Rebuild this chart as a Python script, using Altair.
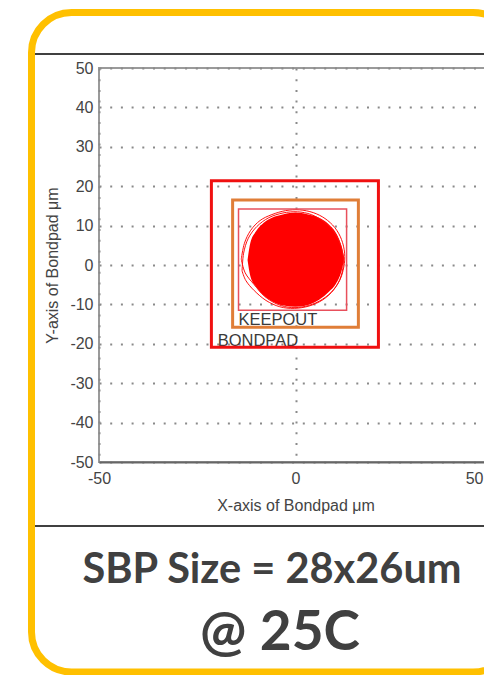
import altair as alt
import pandas as pd

# ---- data ----
box_names = ["BONDPAD", "KEEPOUT", "SBP"]
box_x_lo = [-21.4, -16.0, -14.5]
box_x_hi = [21.1, 16.0, 13.0]
box_y_lo = [-20.9, -15.8, -11.5]
box_y_hi = [21.4, 16.5, 14.2]

blob_x = [-12.2, -11.5, -10.0, -8.0, -6.0, -3.0, 0.0, 3.0, 6.0, 8.5, 10.5, 11.8, 12.4]
blob_top = [1.3, 5.6, 8.6, 10.8, 12.0, 12.9, 13.3, 12.9, 12.0, 10.3, 7.8, 4.5, 1.8]
blob_bot = [1.3, -2.8, -5.6, -7.8, -9.2, -10.3, -10.6, -10.2, -8.8, -6.8, -4.4, -1.2, 1.6]

trace_a_x = [-13.8, -13.0, -11.4, -9.0, -6.0, -2.5, 1.0, 4.5, 7.5, 10.0, 11.7, 12.5, 12.3,
             11.2, 9.0, 6.0, 2.5, -1.0, -4.5, -7.8, -10.5, -12.8, -13.8]
trace_a_y = [1.5, 5.5, 8.8, 11.3, 12.8, 13.8, 14.0, 13.3, 11.8, 9.5, 6.5, 3.0, -0.5,
             -4.0, -7.0, -9.2, -10.5, -10.8, -10.0, -8.0, -5.0, -2.0, 1.5]
trace_b_x = [-13.6, -13.2, -12.0, -9.8, -6.8, -3.2, 0.5, 4.0, 7.2, 9.8, 11.5, 12.2, 11.6,
             9.8, 7.0, 3.5, -0.3, -4.0, -7.5, -10.5, -12.6, -13.6]
trace_b_y = [-1.5, 3.0, 6.8, 9.8, 12.0, 13.2, 13.5, 12.8, 11.0, 8.4, 5.0, 1.2, -2.8,
             -6.2, -8.8, -10.4, -11.0, -10.6, -9.0, -6.5, -4.0, -1.5]

label_text = ["KEEPOUT", "BONDPAD"]
label_x = [-14.5, -19.8]
label_y = [-15.3, -20.6]

x_ticks = [-50, 0, 50]
y_ticks = [-50, -40, -30, -20, -10, 0, 10, 20, 30, 40, 50]

x_title = "X-axis of Bondpad μm"
y_title = "Y-axis of Bondpad μm"
caption1 = "SBP Size = 28x26um"
caption2 = "@ 25C"

# ---- tables ----
boxes = pd.DataFrame({"name": box_names, "x1": box_x_lo, "x2": box_x_hi,
                      "y1": box_y_lo, "y2": box_y_hi})
blob = pd.DataFrame({"x": blob_x, "top": blob_top, "bot": blob_bot})
traces = pd.concat([
    pd.DataFrame({"t": "a", "i": range(len(trace_a_x)), "x": trace_a_x, "y": trace_a_y}),
    pd.DataFrame({"t": "b", "i": range(len(trace_b_x)), "x": trace_b_x, "y": trace_b_y}),
])
labels = pd.DataFrame({"text": label_text, "x": label_x, "y": label_y})
deco = pd.DataFrame({"k": [0]})

AX_FONT = "Liberation Sans"
HYPHEN = "datum.value < 0 ? '-' + format(abs(datum.value), 'd') : format(datum.value, 'd')"
xs = alt.Scale(domain=[-50, 50], nice=False, zero=False)
ys = alt.Scale(domain=[-50, 50], nice=False, zero=False)
grid_kw = dict(grid=True, gridDash=[2, 8.7], gridColor="#8a8a8a", gridWidth=2, ticks=False,
               labelFont=AX_FONT, labelFontSize=16, labelColor="#444", labelExpr=HYPHEN,
               titleFont=AX_FONT, titleFontSize=16, titleFontWeight="normal", titleColor="#444")
xaxis = alt.Axis(values=x_ticks, title=x_title, labelFlush=False, labelPadding=8,
                 labelAlign={"condition": {"test": "datum.value == 50", "value": "right"},
                             "value": "center"},
                 labelOffset={"condition": {"test": "datum.value == 50", "value": -9},
                              "value": 0},
                 titlePadding=11, domain=True, domainColor="#666", domainWidth=2, **grid_kw)
yaxis = alt.Axis(values=y_ticks, title=y_title, labelPadding=6, titlePadding=9,
                 domain=False, **grid_kw)

def X(f):
    return alt.X(f, type="quantitative", scale=xs, axis=xaxis)

def Y(f):
    return alt.Y(f, type="quantitative", scale=ys, axis=yaxis)

blob_layer = alt.Chart(blob).mark_area(color="#FF0000", opacity=1, interpolate="monotone").encode(
    x=X("x"), y=Y("top"), y2="bot")

trace_layer = alt.Chart(traces).mark_line(color="#FF1010", strokeWidth=1, interpolate="cardinal").encode(
    x=X("x"), y=Y("y"), detail="t:N", order="i:Q")

label_layer = alt.Chart(labels).mark_text(align="left", baseline="alphabetic", font=AX_FONT,
                                          fontSize=16.5, color="#3a3a3a").encode(
    x=X("x"), y=Y("y"), text="text:N")

def box_layer(name, color, width):
    return alt.Chart(boxes).transform_filter(alt.datum.name == name).mark_rect(
        fillOpacity=0, stroke=color, strokeWidth=width).encode(
        x=X("x1"), x2="x2", y=Y("y1"), y2="y2")

sbp_layer = box_layer("SBP", "#E8505C", 1.5)
keep_layer = box_layer("KEEPOUT", "#E07E38", 3)
bond_layer = box_layer("BONDPAD", "#F01010", 3)

frame = alt.Chart(deco).mark_rect(cornerRadius=40, fillOpacity=0, stroke="#FFC000", strokeWidth=7).encode(
    x=alt.value(-67.5), x2=alt.value(414), y=alt.value(-55.5), y2=alt.value(604))
rule_top = alt.Chart(deco).mark_rule(color="#404040", strokeWidth=2).encode(
    x=alt.value(-64), x2=alt.value(414), y=alt.value(-14))
rule_bot = alt.Chart(deco).mark_rule(color="#404040", strokeWidth=2).encode(
    x=alt.value(-64), x2=alt.value(414), y=alt.value(458))
cap1 = alt.Chart(deco).mark_text(text=caption1, font="Lato", fontWeight="bold", fontSize=41.5,
                                 color="#404040", align="center", baseline="alphabetic").encode(
    x=alt.value(173), y=alt.value(515))
cap2 = alt.Chart(deco).mark_text(text=caption2, font="Lato", fontWeight="bold", fontSize=55,
                                 color="#404040", align="center", baseline="alphabetic").encode(
    x=alt.value(181), y=alt.value(582))

chart = alt.layer(
    blob_layer, trace_layer, label_layer, sbp_layer, keep_layer, bond_layer,
    frame, rule_top, rule_bot, cap1, cap2,
).properties(
    width=393, height=394,
    autosize=alt.AutoSizeParams(type="none"),
    padding={"left": 91, "top": 60, "right": -8, "bottom": 213},
    background="white",
).configure_view(stroke="#9a9a9a", strokeWidth=2)

chart.save("out.html", embed_options={"renderer": "svg", "actions": False})
